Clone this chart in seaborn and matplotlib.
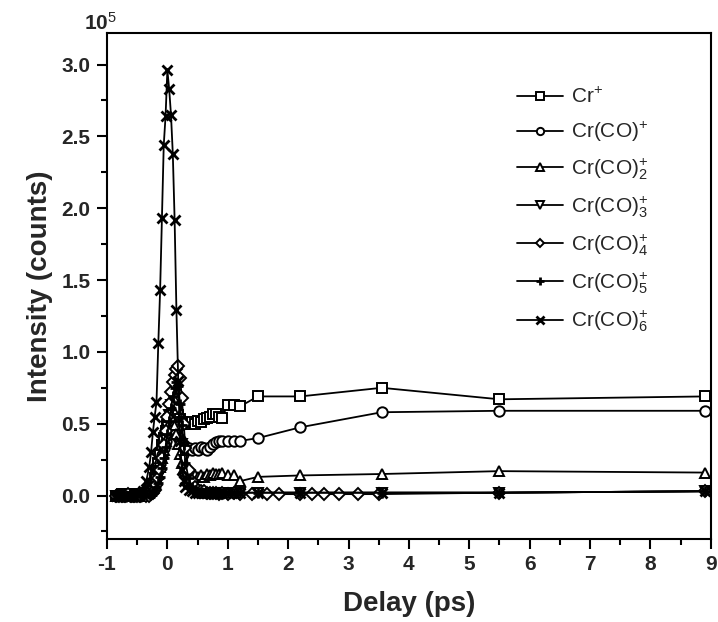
import matplotlib
matplotlib.use('Agg')
import matplotlib.pyplot as plt
from matplotlib.ticker import MultipleLocator, FormatStrFormatter
import seaborn as sns

sns.set_theme(style='white')
plt.rcParams['font.family'] = ['Liberation Sans', 'DejaVu Sans']
plt.rcParams.update({'mathtext.fontset': 'custom',
                     'mathtext.rm': 'Liberation Sans',
                     'mathtext.it': 'Liberation Sans:italic',
                     'mathtext.bf': 'Liberation Sans:bold',
                     'axes.unicode_minus': False})

# --- data (intensity in units of 1e5 counts, delay in ps) ---
delay_scan = [-0.85, -0.8, -0.75, -0.7, -0.65, -0.6, -0.55, -0.5, -0.45, -0.4, -0.35,
              -0.3, -0.27, -0.24, -0.21, -0.18, -0.15, -0.12, -0.09, -0.06, -0.03,
              0.0, 0.03, 0.06, 0.09, 0.12, 0.15, 0.18, 0.21, 0.24, 0.27,
              0.3, 0.35, 0.4, 0.45, 0.5, 0.55, 0.6, 0.65, 0.7, 0.75, 0.8, 0.85, 0.9,
              1.0, 1.1, 1.2]
delay_tail = [1.5, 2.2, 3.55, 5.5, 8.9]
delay_tail_co4 = [1.4, 1.65, 1.85, 2.2, 2.4, 2.6, 2.85, 3.15, 3.5, 5.5, 8.9]

cr = [0.0, 0.0, 0.01, 0.0, 0.0, 0.01, 0.0, 0.0, 0.01, 0.01, 0.02,
      0.03, 0.05, 0.08, 0.12, 0.17, 0.23, 0.29, 0.35, 0.4, 0.45,
      0.49, 0.53, 0.56, 0.58, 0.59, 0.58, 0.56, 0.53, 0.51, 0.5,
      0.5, 0.5, 0.51, 0.5, 0.52, 0.51, 0.53, 0.54, 0.55, 0.57, 0.57, 0.55, 0.54,
      0.63, 0.63, 0.62,
      0.69, 0.69, 0.75, 0.67, 0.69]
cr_co = [0.0, 0.01, 0.0, 0.0, 0.01, 0.0, 0.0, 0.01, 0.0, 0.01, 0.01,
         0.02, 0.04, 0.06, 0.09, 0.13, 0.18, 0.23, 0.28, 0.33, 0.38,
         0.42, 0.45, 0.47, 0.47, 0.46, 0.44, 0.41, 0.38, 0.36, 0.35,
         0.34, 0.33, 0.32, 0.33, 0.32, 0.34, 0.33, 0.32, 0.34, 0.36, 0.37, 0.38, 0.38,
         0.38, 0.38, 0.38,
         0.40, 0.475, 0.58, 0.59, 0.59]
cr_co2 = [0.0, 0.0, 0.01, 0.0, 0.0, 0.0, 0.01, 0.0, 0.0, 0.01, 0.01,
          0.02, 0.03, 0.05, 0.08, 0.11, 0.15, 0.2, 0.26, 0.32, 0.38,
          0.44, 0.49, 0.52, 0.52, 0.49, 0.43, 0.36, 0.29, 0.23, 0.19,
          0.17, 0.15, 0.14, 0.14, 0.13, 0.14, 0.13, 0.15, 0.14, 0.16, 0.15, 0.15, 0.16,
          0.14, 0.14, 0.1,
          0.13, 0.14, 0.15, 0.17, 0.16]
cr_co3 = [0.0, 0.0, 0.0, 0.01, 0.0, 0.0, 0.0, 0.01, 0.0, 0.0, 0.01,
          0.01, 0.02, 0.03, 0.05, 0.08, 0.12, 0.17, 0.23, 0.31, 0.39,
          0.48, 0.56, 0.63, 0.68, 0.7, 0.67, 0.6, 0.48, 0.36, 0.25,
          0.16, 0.09, 0.05, 0.03, 0.02, 0.02, 0.02, 0.01, 0.02, 0.02, 0.01, 0.02, 0.02,
          0.02, 0.01, 0.02,
          0.02, 0.02, 0.02, 0.02, 0.03]
cr_co4 = [0.0, 0.0, 0.0, 0.0, 0.01, 0.0, 0.0, 0.0, 0.0, 0.01, 0.0,
          0.0, 0.01, 0.02, 0.04, 0.07, 0.12, 0.18, 0.26, 0.35, 0.45,
          0.55, 0.64, 0.72, 0.79, 0.84, 0.88, 0.9, 0.82, 0.68, 0.5,
          0.33, 0.18, 0.1, 0.06, 0.04, 0.03, 0.03, 0.02, 0.02, 0.02, 0.02, 0.01, 0.02,
          0.01, 0.02, 0.01,
          0.01, 0.01, 0.01, 0.01, 0.01, 0.01, 0.01, 0.01, 0.01, 0.02, 0.03]
cr_co5 = [0.01, 0.0, 0.0, 0.0, 0.0, 0.01, 0.0, 0.0, 0.0, 0.0, 0.01,
          0.01, 0.01, 0.02, 0.04, 0.06, 0.09, 0.13, 0.19, 0.26, 0.34,
          0.43, 0.52, 0.61, 0.69, 0.75, 0.79, 0.76, 0.64, 0.49, 0.35,
          0.23, 0.12, 0.06, 0.04, 0.02, 0.02, 0.02, 0.02, 0.01, 0.02, 0.02, 0.02, 0.01,
          0.02, 0.02, 0.02,
          0.02, 0.02, 0.02, 0.02, 0.03]
cr_co6 = [0.0, 0.0, 0.0, 0.0, 0.0, 0.0, 0.0, 0.01, 0.01, 0.03, 0.1,
          0.2, 0.3, 0.44, 0.55, 0.65, 1.06, 1.43, 1.93, 2.44, 2.64,
          2.96, 2.83, 2.65, 2.38, 1.92, 1.29, 0.8, 0.38, 0.18, 0.1,
          0.06, 0.04, 0.03, 0.02, 0.02, 0.02, 0.02, 0.02, 0.02, 0.02, 0.02, 0.02, 0.02,
          0.02, 0.02, 0.02,
          0.02, 0.02, 0.02, 0.02, 0.03]

labels = [r'Cr$^{+}$', r'Cr(CO)$^{+}$', r'Cr(CO)$_{2}^{+}$', r'Cr(CO)$_{3}^{+}$',
          r'Cr(CO)$_{4}^{+}$', r'Cr(CO)$_{5}^{+}$', r'Cr(CO)$_{6}^{+}$']
markers = ['s', 'o', '^', 'v', 'D', '+', 'x']

series = [
    (delay_scan + delay_tail, cr),
    (delay_scan + delay_tail, cr_co),
    (delay_scan + delay_tail, cr_co2),
    (delay_scan + delay_tail, cr_co3),
    (delay_scan + delay_tail_co4, cr_co4),
    (delay_scan + delay_tail, cr_co5),
    (delay_scan + delay_tail, cr_co6),
]

fig, ax = plt.subplots(figsize=(7.18, 6.22), dpi=100)
fig.subplots_adjust(left=0.149, right=0.990, top=0.947, bottom=0.134)

for (x, y), lab, m in zip(series, labels, markers):
    ms = 6.5 if m == 'D' else 7.5
    sns.lineplot(x=x, y=y, ax=ax, color='black', linewidth=1.3, marker=m,
                 markersize=ms, markerfacecolor='white', markeredgecolor='black',
                 markeredgewidth=1.4 if m not in '+x' else 2.0, label=lab)

ax.set_xlim(-1, 9)
ax.set_ylim(-0.3, 3.22)
ax.xaxis.set_major_locator(MultipleLocator(1))
ax.xaxis.set_minor_locator(MultipleLocator(0.5))
ax.yaxis.set_major_locator(MultipleLocator(0.5))
ax.yaxis.set_minor_locator(MultipleLocator(0.25))
ax.yaxis.set_major_formatter(FormatStrFormatter('%.1f'))
ax.tick_params(which='both', direction='out', color='black', width=1.5,
               bottom=True, left=True, top=False, right=False)
ax.tick_params(which='major', length=7, labelsize=15, pad=5)
ax.tick_params(which='minor', length=4)
for t in ax.get_xticklabels() + ax.get_yticklabels():
    t.set_fontweight('bold')
for s in ax.spines.values():
    s.set_color('black')
    s.set_linewidth(1.5)

ax.set_xlabel('Delay (ps)', fontsize=20, fontweight='bold', labelpad=12)
ax.set_ylabel('Intensity (counts)', fontsize=20, fontweight='bold', labelpad=6)
ax.annotate(r'10$^{5}$', xy=(0, 1), xycoords='axes fraction', xytext=(-5, 7),
            textcoords='offset points', ha='center', va='center', fontsize=15,
            fontweight='bold')

ax.legend(loc='upper left', bbox_to_anchor=(0.648, 0.93), frameon=False,
          fontsize=15, handlelength=2.2, handletextpad=0.4, labelspacing=0.6,
          markerscale=0.7)

fig.savefig('out.png', dpi=100)
